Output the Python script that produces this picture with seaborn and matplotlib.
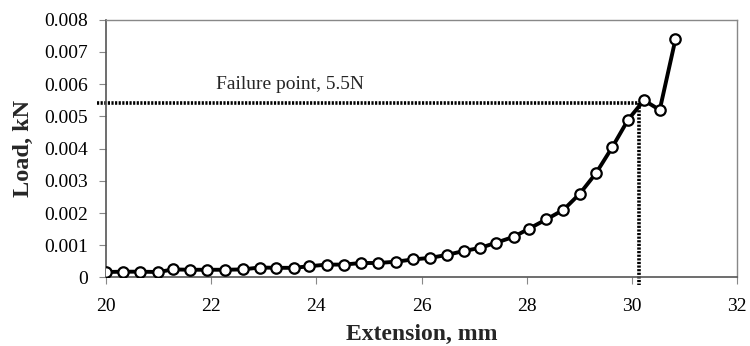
import matplotlib
matplotlib.use("Agg")
import matplotlib.pyplot as plt
import seaborn as sns
import pandas as pd

extension_mm = [20.00, 20.32, 20.65, 20.99, 21.28, 21.60, 21.93, 22.26, 22.60, 22.92,
                23.24, 23.57, 23.87, 24.20, 24.52, 24.85, 25.18, 25.51, 25.84, 26.17,
                26.48, 26.80, 27.12, 27.42, 27.75, 28.05, 28.37, 28.70, 29.01, 29.32,
                29.63, 29.93, 30.23, 30.53, 30.83]
load_kN = [0.00017, 0.00018, 0.00018, 0.00017, 0.00025, 0.00024, 0.00024, 0.00024, 0.00025, 0.00031,
           0.00030, 0.00030, 0.00035, 0.00040, 0.00040, 0.00045, 0.00045, 0.00049, 0.00056, 0.00061,
           0.00070, 0.00082, 0.00092, 0.00108, 0.00126, 0.00152, 0.00180, 0.00210, 0.00260, 0.00324,
           0.00405, 0.00490, 0.00550, 0.00520, 0.00740]
failure_x = 30.13
failure_y = 0.00543
failure_label = "Failure point, 5.5N"
x_ticks = [20, 22, 24, 26, 28, 30, 32]
y_ticks = [0, 0.001, 0.002, 0.003, 0.004, 0.005, 0.006, 0.007, 0.008]
y_ticklabels = ["0", "0.001", "0.002", "0.003", "0.004", "0.005", "0.006", "0.007", "0.008"]

sns.set_style("white")
plt.rcParams['font.family'] = ['Liberation Serif', 'DejaVu Serif']

df = pd.DataFrame({"Extension": extension_mm, "Load": load_kN})

fig = plt.figure(figsize=(7.5, 3.46), dpi=100)
ax = fig.add_axes([0.1413, 0.198, 0.8414, 0.745])

# failure marker lines (dotted, extending slightly outside the axes)
ax.plot([19.83, failure_x], [failure_y, failure_y], color="black", lw=2.6,
        linestyle=(0, (0.6, 0.4)), clip_on=False, zorder=2)
ax.plot([failure_x, failure_x], [failure_y, -0.00022], color="black", lw=2.6,
        linestyle=(0, (0.6, 0.4)), clip_on=False, zorder=2)

sns.lineplot(data=df, x="Extension", y="Load", ax=ax, color="black", lw=2.8,
             marker="o", markersize=7.5, markerfacecolor="white",
             markeredgecolor="black", markeredgewidth=1.6, zorder=3)

ax.set_xlim(20, 32)
ax.set_ylim(0, 0.008)
ax.set_xticks(x_ticks)
ax.set_xticklabels([str(t) for t in x_ticks])
ax.set_yticks(y_ticks)
ax.set_yticklabels(y_ticklabels)
ax.tick_params(axis="both", which="both", direction="out", length=5, width=0.8,
               colors="#888888", labelcolor="black", labelsize=14,
               bottom=True, left=True)
ax.tick_params(axis="x", pad=10)
ax.tick_params(axis="y", pad=8)

for s in ["top", "right"]:
    ax.spines[s].set_color("#888888")
    ax.spines[s].set_linewidth(1.0)
for s in ["left", "bottom"]:
    ax.spines[s].set_color("#555555")
    ax.spines[s].set_linewidth(1.2)

ax.set_xlabel("Extension, mm", fontsize=17, fontweight="bold", labelpad=6)
ax.set_ylabel("Load, kN", fontsize=17.5, fontweight="bold", labelpad=7)

ax.text(22.1, 0.0060, failure_label, fontsize=14, ha="left", va="center")

fig.savefig("out.png", dpi=100)
